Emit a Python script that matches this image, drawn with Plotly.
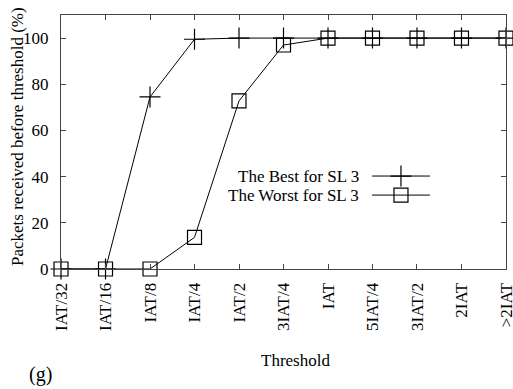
import plotly.graph_objects as go

# Threshold categories along the x axis
thresholds = ["IAT/32", "IAT/16", "IAT/8", "IAT/4", "IAT/2", "3IAT/4",
              "IAT", "5IAT/4", "3IAT/2", "2IAT", "&gt;2IAT"]

# Percentage of packets received before each threshold
best_sl3 = [0, 0, 74.5, 99.5, 100, 100, 100, 100, 100, 100, 100]
worst_sl3 = [0, 0, 0, 13.7, 72.8, 97, 100, 100, 100, 100, 100]

y_ticks = [0, 20, 40, 60, 80, 100]

FONT = "'Liberation Serif', 'Times New Roman', 'DejaVu Serif', serif"
idx = list(range(len(thresholds)))

fig = go.Figure()

fig.add_trace(go.Scatter(
    x=idx, y=best_sl3, mode="lines+markers", name="The Best for SL 3",
    line=dict(color="black", width=1), cliponaxis=False,
    marker=dict(symbol="cross-thin-open", size=15,
                line=dict(color="black", width=1.2), color="black"),
    showlegend=False,
))
fig.add_trace(go.Scatter(
    x=idx, y=worst_sl3, mode="lines+markers", name="The Worst for SL 3",
    line=dict(color="black", width=1), cliponaxis=False,
    marker=dict(symbol="square-open", size=14,
                line=dict(color="black", width=1.2), color="black"),
    showlegend=False,
))

# Key samples drawn on a hidden overlay axis spanning the plot area (0..1)
key_x = [0.699, 0.829]
key_rows = [0.366, 0.291]
key_symbols = ["cross-thin-open", "square-open"]
key_sizes = [15, 14]
for row, sym, sz in zip(key_rows, key_symbols, key_sizes):
    fig.add_trace(go.Scatter(
        x=key_x, y=[row, row], mode="lines", xaxis="x2", yaxis="y2",
        line=dict(color="black", width=1), showlegend=False, hoverinfo="skip",
    ))
    fig.add_trace(go.Scatter(
        x=[sum(key_x) / 2], y=[row], mode="markers", xaxis="x2", yaxis="y2",
        marker=dict(symbol=sym, size=sz, color="black",
                    line=dict(color="black", width=1.2)),
        showlegend=False, hoverinfo="skip",
    ))

key_labels = ["The Best for SL 3", "The Worst for SL 3"]
annotations = []
for row, label in zip(key_rows, key_labels):
    annotations.append(dict(
        text=label, xref="paper", yref="paper", x=0.674, y=row,
        xanchor="right", yanchor="middle", showarrow=False,
        font=dict(family=FONT, size=17, color="black"),
    ))

annotations += [
    dict(text="Threshold", xref="paper", yref="paper",
         x=(295 - 61) / 445, y=-(360 - 269) / 254,
         xanchor="center", yanchor="middle", showarrow=False,
         font=dict(family=FONT, size=17, color="black")),
    dict(text="Packets received before threshold (%)", xref="paper",
         yref="paper", x=-(61 - 17) / 445, y=(269 - 137) / 254,
         xanchor="center", yanchor="middle", textangle=-90,
         showarrow=False, font=dict(family=FONT, size=17, color="black")),
    dict(text="(g)", xref="paper", yref="paper",
         x=-(61 - 40) / 445, y=-(374 - 269) / 254,
         xanchor="center", yanchor="middle", showarrow=False,
         font=dict(family=FONT, size=20, color="black")),
]

axis_common = dict(
    showline=True, linecolor="#444", linewidth=1, mirror="allticks",
    ticks="inside", ticklen=5, tickcolor="#444", tickwidth=1,
    showgrid=False, zeroline=False, ticklabeloverflow="allow",
    automargin=False,
    tickfont=dict(family=FONT, size=17, color="black"),
)

fig.update_layout(
    width=513, height=389,
    margin=dict(l=61, r=7, t=15, b=120),
    paper_bgcolor="white", plot_bgcolor="white",
    font=dict(family=FONT, color="black"),
    xaxis=dict(
        range=[-0.0005, len(thresholds) - 1 + 0.0005], tickmode="array",
        tickvals=idx, ticktext=thresholds, tickangle=-90,
        ticklabelstandoff=6, **axis_common,
    ),
    yaxis=dict(
        range=[0, 110], tickmode="array", tickvals=y_ticks,
        ticklabelstandoff=8, **axis_common,
    ),
    xaxis2=dict(overlaying="x", range=[0, 1], visible=False),
    yaxis2=dict(overlaying="y", range=[0, 1], visible=False),
    annotations=annotations,
)

fig.write_html("out.html")
